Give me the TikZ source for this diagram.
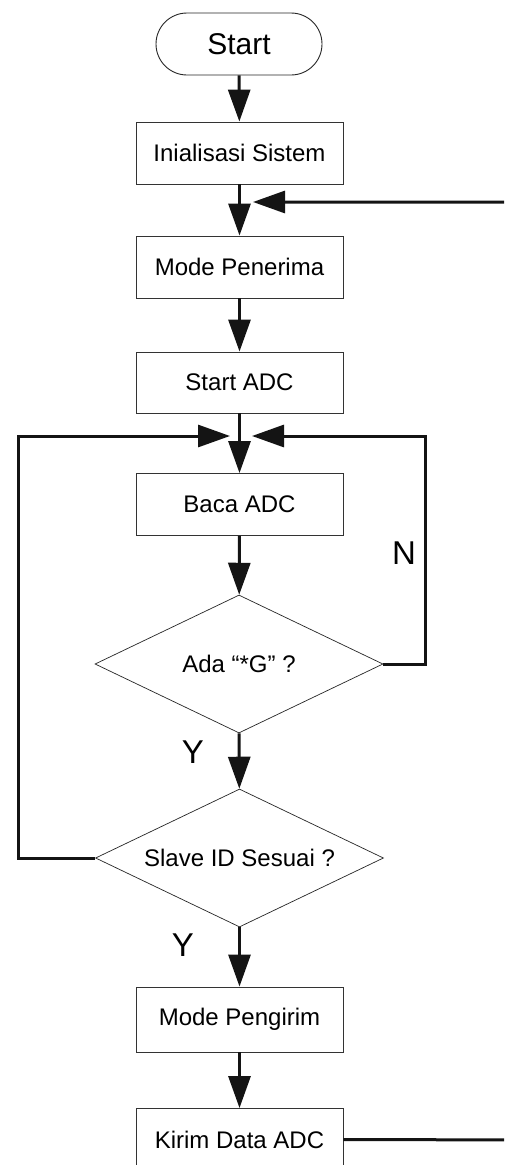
\documentclass[tikz,border=0pt]{standalone}
\usepackage{fontspec}
\setmainfont{Liberation Sans}
\usetikzlibrary{arrows.meta,shapes.geometric,shapes.misc}
\begin{document}
\begin{tikzpicture}[x=1pt,y=1pt,
  proc/.style={draw=black!80, line width=0.9pt, minimum width=207pt,
    minimum height=62pt, inner sep=0pt, font=\fontsize{24}{28}\selectfont},
  term/.style={draw=black!85, line width=0.9pt, rounded rectangle,
    minimum width=166pt, minimum height=62pt, inner sep=0pt,
    font=\fontsize{30}{34}\selectfont},
  decide/.style={draw=black!85, line width=0.7pt, diamond, aspect=2.09,
    minimum width=288pt, minimum height=138pt, inner sep=0pt,
    font=\fontsize{24}{28}\selectfont},
  flow/.style={line width=3pt, draw=black!92,
    -{Triangle[length=32pt,width=22pt]}},
  link/.style={line width=3pt, draw=black!92},
  lbl/.style={font=\fontsize{33}{36}\selectfont, inner sep=0pt}]

\useasboundingbox (0,0) rectangle (504,-1165);
\clip (0,0) rectangle (504,-1165);
\fill[white] (0,0) rectangle (504,-1165);

% process chain
\node[term]   (start) at (239,-44)     {Start};
\node[proc]   (init)  at (239.5,-153)  {Inialisasi Sistem};
\node[proc]   (recv)  at (239.5,-267)  {Mode Penerima};
\node[proc, minimum height=61pt] (adc) at (239.5,-382.5) {Start ADC};
\node[proc]   (baca)  at (239.5,-504.5) {Baca ADC};
\node[decide] (q1)    at (239,-664)    {Ada “*G” ?};
\node[decide] (q2)    at (239.5,-858)  {Slave ID Sesuai ?};
\node[proc, minimum height=65pt] (send) at (239.5,-1019.5) {Mode Pengirim};
\node[proc]   (kirim) at (239.5,-1139.5) {Kirim Data ADC};

% branch labels
\node[lbl] (ln)  at (404,-553) {N};
\node[lbl] (ly1) at (193,-752) {Y};
\node[lbl] (ly2) at (183,-945) {Y};

% joints of the return loops
\coordinate (j1) at (253,-202);
\coordinate (r1) at (540,-202);
\coordinate (r2) at (540,-1140);
\coordinate (jl) at (230,-436);
\coordinate (jr) at (252,-436);
\coordinate (l1) at (18,-436);
\coordinate (l2) at (18,-858);
\coordinate (n1) at (425,-436);
\coordinate (n2) at (425,-664);

% straight flow
\draw[flow] (start) -- (init);
\draw[flow] (init) -- (recv);
\draw[flow] (recv) -- (adc);
\draw[flow] (adc) -- (baca);
\draw[flow] (baca) -- (q1);
\draw[flow] (q1) -- (q2);
\draw[flow] (q2) -- (send);
\draw[flow] (send) -- (kirim);

% return loops
\draw[flow] (kirim.east) -- (r2) -- (r1) -- (j1);
\draw[flow] (q1.east) -- (n2) -- (n1) -- (jr);
\draw[flow] (q2.west) -- (l2) -- (l1) -- (jl);
\end{tikzpicture}
\end{document}
